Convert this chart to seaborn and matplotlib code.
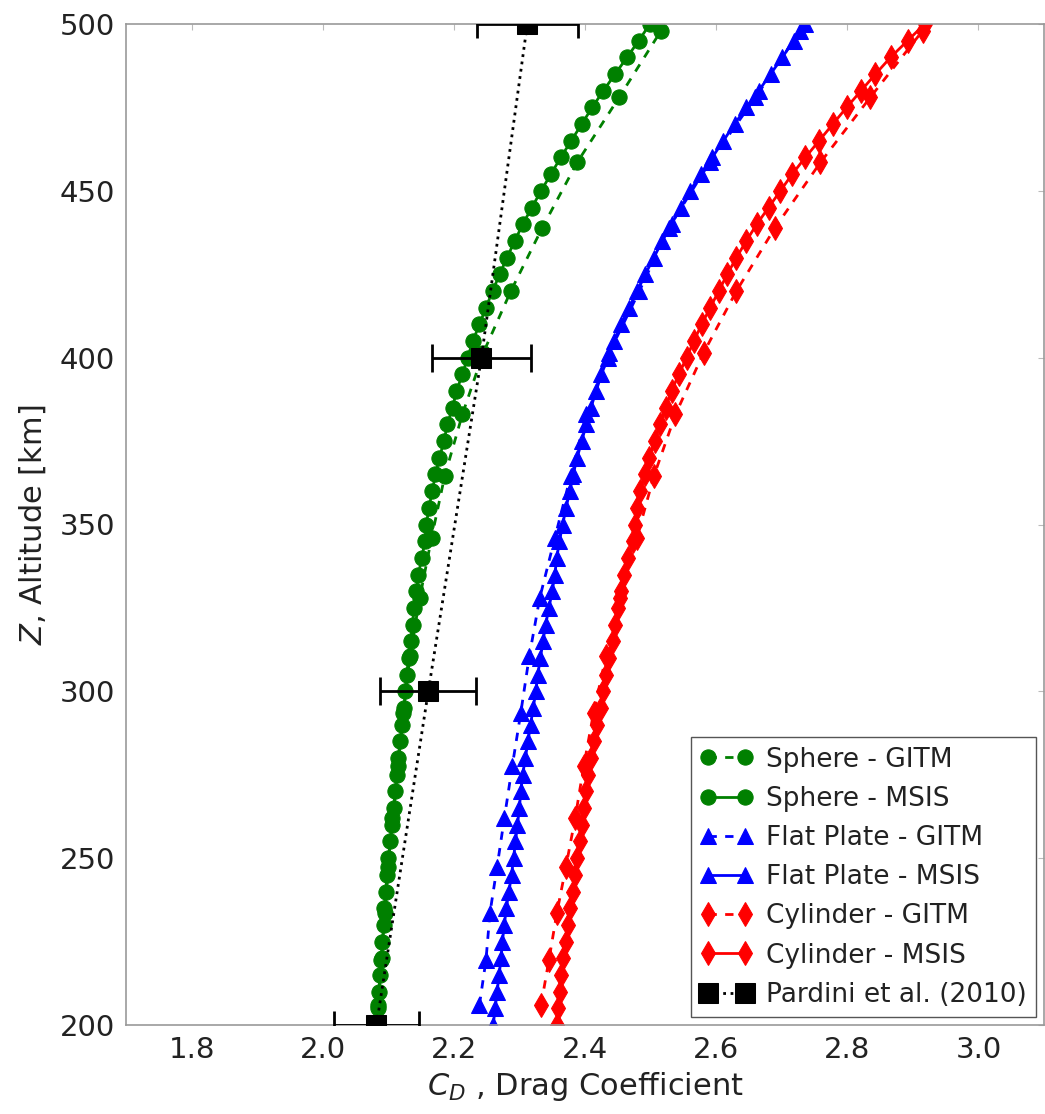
import matplotlib
matplotlib.use("Agg")
import matplotlib.pyplot as plt
import seaborn as sns
import numpy as np

# ---------------- data ----------------
alt_msis = list(range(200, 501, 5))
alt_gitm = [206, 219.5, 233.5, 247.5, 262, 277.5, 293.5, 310.5, 328, 346,
            364.5, 383, 401.5, 420, 439, 458.5, 478, 498]

sphere_msis = [2.083, 2.084, 2.086, 2.088, 2.090, 2.091, 2.093, 2.094, 2.096, 2.098,
               2.100, 2.103, 2.106, 2.109, 2.111, 2.113, 2.115, 2.118, 2.121, 2.124,
               2.126, 2.128, 2.131, 2.134, 2.137, 2.139, 2.143, 2.146, 2.151, 2.156,
               2.158, 2.162, 2.167, 2.172, 2.178, 2.185, 2.190, 2.198, 2.204, 2.213,
               2.221, 2.229, 2.239, 2.249, 2.259, 2.270, 2.281, 2.293, 2.305, 2.319,
               2.333, 2.348, 2.363, 2.379, 2.395, 2.411, 2.428, 2.446, 2.464, 2.482,
               2.499]
sphere_gitm = [2.084, 2.089, 2.095, 2.100, 2.106, 2.115, 2.123, 2.133, 2.148, 2.166,
               2.186, 2.213, 2.245, 2.287, 2.335, 2.388, 2.452, 2.516]

plate_msis = [2.260, 2.263, 2.266, 2.269, 2.272, 2.274, 2.277, 2.280, 2.284, 2.288,
              2.291, 2.294, 2.297, 2.300, 2.302, 2.305, 2.309, 2.313, 2.317, 2.321,
              2.325, 2.328, 2.332, 2.336, 2.340, 2.345, 2.350, 2.354, 2.357, 2.361,
              2.366, 2.371, 2.377, 2.382, 2.388, 2.395, 2.402, 2.409, 2.417, 2.425,
              2.435, 2.444, 2.455, 2.467, 2.480, 2.492, 2.505, 2.518, 2.532, 2.546,
              2.560, 2.577, 2.594, 2.611, 2.628, 2.646, 2.665, 2.683, 2.701, 2.718,
              2.735]
plate_gitm = [2.239, 2.249, 2.255, 2.266, 2.277, 2.289, 2.302, 2.315, 2.331, 2.354,
              2.378, 2.402, 2.437, 2.483, 2.528, 2.590, 2.660, 2.728]

cyl_msis = [2.357, 2.359, 2.362, 2.364, 2.367, 2.371, 2.374, 2.377, 2.381, 2.384,
            2.388, 2.392, 2.396, 2.399, 2.402, 2.405, 2.409, 2.414, 2.419, 2.424,
            2.428, 2.432, 2.437, 2.442, 2.446, 2.450, 2.455, 2.460, 2.466, 2.473,
            2.477, 2.480, 2.484, 2.491, 2.498, 2.506, 2.514, 2.523, 2.532, 2.543,
            2.555, 2.566, 2.578, 2.591, 2.604, 2.617, 2.631, 2.646, 2.662, 2.680,
            2.698, 2.716, 2.736, 2.757, 2.778, 2.799, 2.821, 2.843, 2.866, 2.892,
            2.918]
cyl_gitm = [2.333, 2.345, 2.357, 2.371, 2.385, 2.398, 2.413, 2.432, 2.454, 2.479,
            2.505, 2.538, 2.581, 2.631, 2.690, 2.759, 2.835, 2.915]

pardini_alt = [200, 300, 400, 500]
pardini_cd = [2.082, 2.161, 2.242, 2.312]
pardini_err = [0.065, 0.073, 0.075, 0.077]

labels = ["Sphere - GITM", "Sphere - MSIS", "Flat Plate - GITM", "Flat Plate - MSIS",
          "Cylinder - GITM", "Cylinder - MSIS", "Pardini et al. (2010)"]
xticks = [1.8, 2.0, 2.2, 2.4, 2.6, 2.8, 3.0]
yticks = [200, 250, 300, 350, 400, 450, 500]

# ---------------- style ----------------
sns.set_style("white")
plt.rcParams['font.family'] = ['DejaVu Sans']
plt.rcParams['mathtext.fontset'] = 'dejavusans'

fig = plt.figure(figsize=(10.45, 11.14), dpi=100)
ax = fig.add_axes([126/1045, 89/1114, 918/1045, 1001/1114])

green, blue, red = (0, 0.5, 0), (0, 0, 1), (1, 0, 0)
dash = (0, (3, 3))
lw = 2.0

series = [
    (sphere_gitm, alt_gitm, green, 'o', 11, dash, labels[0]),
    (sphere_msis, alt_msis, green, 'o', 11, '-', labels[1]),
    (plate_gitm, alt_gitm, blue, '^', 11, dash, labels[2]),
    (plate_msis, alt_msis, blue, '^', 11, '-', labels[3]),
    (cyl_gitm, alt_gitm, red, 'd', 12, dash, labels[4]),
    (cyl_msis, alt_msis, red, 'd', 12, '-', labels[5]),
]
for xs, ys, c, m, ms, ls, lab in series:
    sns.lineplot(x=xs, y=ys, orient='y', estimator=None, sort=False, ax=ax,
                 color=c, marker=m, markersize=ms, markeredgecolor=c,
                 markerfacecolor=c, linestyle=ls, linewidth=lw, label=lab)

ax.errorbar(pardini_cd, pardini_alt, xerr=pardini_err, fmt='none',
            ecolor='black', elinewidth=2, capsize=10, capthick=2, zorder=9)
sns.lineplot(x=pardini_cd, y=pardini_alt, orient='y', estimator=None, sort=False,
             ax=ax, color='black', marker='s', markersize=14, markeredgecolor='black',
             linestyle=':', linewidth=2, label=labels[6], zorder=10)

ax.set_xlim(1.7, 3.1)
ax.set_ylim(200, 500)
ax.set_xticks(xticks)
ax.set_yticks(yticks)
ax.set_xticklabels([f"{v:.1f}" for v in xticks])
ax.tick_params(axis='both', which='major', labelsize=21, direction='in',
               length=4, width=0.8, color='#bbbbbb', labelcolor='#222222',
               top=True, right=True, pad=8)
for sp in ax.spines.values():
    sp.set_color('#999999')
    sp.set_linewidth(1.2)

ax.set_xlabel(r"$C_D$ , Drag Coefficient", fontsize=22, color='#222222', labelpad=4)
ax.set_ylabel(r"$Z$, Altitude [km]", fontsize=22, color='#222222', labelpad=8)

leg = ax.legend(loc='lower right', fontsize=19, numpoints=2, handlelength=2.0,
                fancybox=False, framealpha=1, edgecolor='#555555',
                borderaxespad=0.3, labelspacing=0.5, borderpad=0.35,
                handletextpad=0.5)
leg.get_frame().set_linewidth(1.0)
for t in leg.get_texts():
    t.set_color('#222222')

fig.savefig("out.png", dpi=100)
